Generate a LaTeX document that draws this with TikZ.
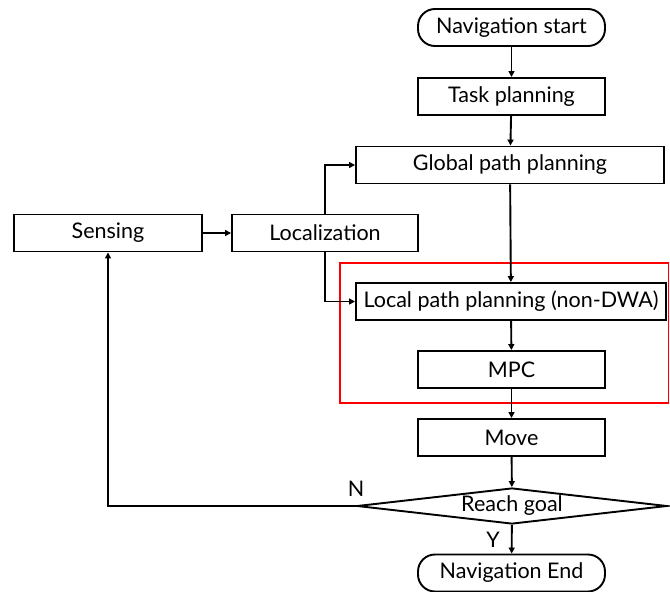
\documentclass[tikz,border=0pt]{standalone}
\usepackage{fontspec}
\setmainfont{Lato}
\usetikzlibrary{shapes.geometric,arrows.meta}
\begin{document}
\begin{tikzpicture}[x=1pt,y=-1pt,
  font=\fontsize{21.5}{24}\selectfont,
  box/.style={draw,line width=1.9pt,rectangle,inner sep=0pt,minimum height=37pt},
  term/.style={draw,line width=1.9pt,rectangle,rounded corners=17pt,inner sep=0pt,minimum width=187pt,minimum height=37pt},
  decision/.style={draw,line width=1.9pt,diamond,aspect=8.6,inner sep=0pt,minimum width=310pt,minimum height=36pt},
  flow/.style={line width=1.9pt,-{Triangle[length=6pt,width=6pt]}},
  region/.style={draw=red,line width=1.6pt}]
\useasboundingbox (0,0) rectangle (670,592);

% grouped local planning stage
\draw[region] (340,263) rectangle (668.5,403);

\node[term] (start) at (511.5,27.5) {Navigation start};
\node[box,minimum width=187pt] (task) at (511.5,96.5) {Task planning};
\node[box,minimum width=308pt] (global) at (510,165) {Global path planning};
\node[box,minimum width=188pt] (sensing) at (108,233) {Sensing};
\node[box,minimum width=186pt] (loc) at (325,233) {Localization};
\node[box,minimum width=310pt] (local) at (511,301.5) {Local path planning (non-DWA)};
\node[box,minimum width=187pt] (mpc) at (511.5,369.5) {MPC};
\node[box,minimum width=187pt] (move) at (511.5,437.5) {Move};
\node[decision] (goal) at (512,506) {Reach goal};
\node[term] (end) at (511.5,573) {Navigation End};

\draw[flow] (start) -- (task);
\draw[flow] (task) -- (global);
\draw[flow] (global) -- (local);
\draw[flow] (local) -- (mpc);
\draw[flow] (mpc) -- (move);
\draw[flow] (move) -- (goal);
\draw[flow] (goal) -- (end);
\draw[flow] (sensing) -- (loc);
\draw[flow] (loc.north) |- (global.west);
\draw[flow] (loc.south) |- (local.west);
\draw[flow] (goal.west) -| (sensing.south);

\node (nlab) at (356,489) {N};
\node (ylab) at (493,540) {Y};
\end{tikzpicture}
\end{document}
